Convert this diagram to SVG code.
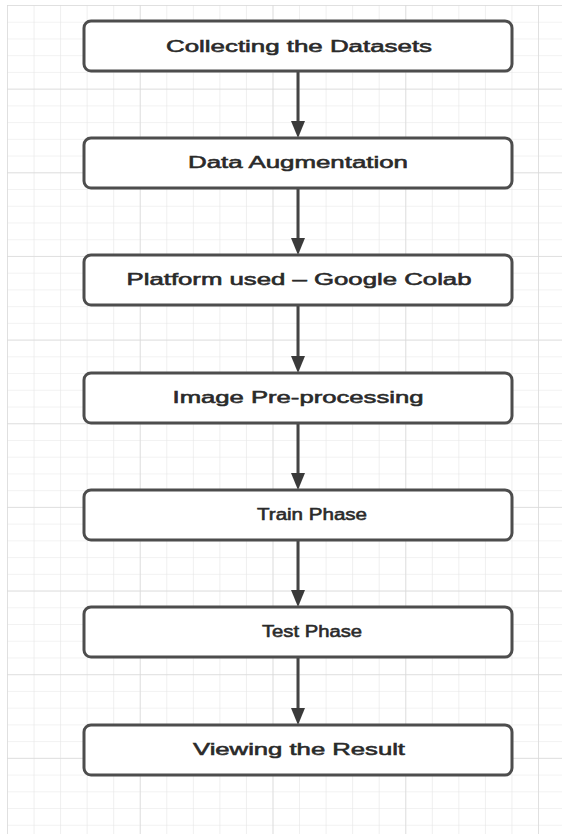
<svg xmlns="http://www.w3.org/2000/svg" width="562" height="834" viewBox="0 0 562 834">
  <defs>
    <!-- minor grid cell and a major block of 5x5 cells -->
    <pattern id="minor" x="7" y="5" width="26.55" height="16.73" patternUnits="userSpaceOnUse">
      <path d="M 0 0 L 0 16.73 M 0 0 L 26.55 0" fill="none" stroke="#e5e5e5" stroke-width="1.2"/>
    </pattern>
    <pattern id="major" x="7" y="5" width="132.75" height="83.65" patternUnits="userSpaceOnUse">
      <path d="M 0 0 L 0 83.65 M 0 0 L 132.75 0" fill="none" stroke="#dadada" stroke-width="1.4"/>
    </pattern>
    <style>
      .box { fill: #ffffff; stroke: #4d4d4d; stroke-width: 3; }
      .label { font-family: "Liberation Sans", Arial, sans-serif; font-size: 16px; fill: #2a2a2a; stroke: #2a2a2a; stroke-width: 0.55; text-anchor: middle; }
      .edge { stroke: #444444; stroke-width: 3; fill: none; }
      .head { fill: #3a3a3a; }
    </style>
  </defs>

  <!-- canvas with grid -->
  <rect x="0" y="0" width="562" height="834" fill="#ffffff"/>
  <rect x="7" y="5" width="555" height="829" fill="url(#minor)"/>
  <rect x="7" y="5" width="555" height="829" fill="url(#major)"/>

  <!-- connectors -->
  <g id="connectors">
    <line class="edge" x1="298" y1="71" x2="298" y2="124"/>
    <path class="head" d="M 291 121 L 305 121 L 298 138 Z"/>
    <line class="edge" x1="298" y1="188" x2="298" y2="241"/>
    <path class="head" d="M 291 238 L 305 238 L 298 255 Z"/>
    <line class="edge" x1="298" y1="305" x2="298" y2="358"/>
    <path class="head" d="M 291 356 L 305 356 L 298 373 Z"/>
    <line class="edge" x1="298" y1="423" x2="298" y2="476"/>
    <path class="head" d="M 291 473 L 305 473 L 298 490 Z"/>
    <line class="edge" x1="298" y1="540" x2="298" y2="593"/>
    <path class="head" d="M 291 590 L 305 590 L 298 607 Z"/>
    <line class="edge" x1="298" y1="657" x2="298" y2="710"/>
    <path class="head" d="M 291 708 L 305 708 L 298 725 Z"/>
  </g>

  <g id="collect">
    <rect class="box" x="84" y="21" width="428" height="50" rx="7"/>
    <text class="label" x="299" y="52" textLength="266" lengthAdjust="spacingAndGlyphs">Collecting the Datasets</text>
  </g>
  <g id="augment">
    <rect class="box" x="84" y="138" width="428" height="50" rx="7"/>
    <text class="label" x="298" y="168" textLength="220" lengthAdjust="spacingAndGlyphs">Data Augmentation</text>
  </g>
  <g id="platform">
    <rect class="box" x="84" y="255" width="428" height="50" rx="7"/>
    <text class="label" x="299" y="285" textLength="345" lengthAdjust="spacingAndGlyphs">Platform used – Google Colab</text>
  </g>
  <g id="preprocess">
    <rect class="box" x="84" y="373" width="428" height="50" rx="7"/>
    <text class="label" x="298" y="403" textLength="251" lengthAdjust="spacingAndGlyphs">Image Pre-processing</text>
  </g>
  <g id="train">
    <rect class="box" x="84" y="490" width="428" height="50" rx="7"/>
    <text class="label" x="312" y="520" textLength="110" lengthAdjust="spacingAndGlyphs">Train Phase</text>
  </g>
  <g id="test">
    <rect class="box" x="84" y="607" width="428" height="50" rx="7"/>
    <text class="label" x="312" y="637" textLength="100" lengthAdjust="spacingAndGlyphs">Test Phase</text>
  </g>
  <g id="result">
    <rect class="box" x="84" y="725" width="428" height="50" rx="7"/>
    <text class="label" x="299" y="755" textLength="212" lengthAdjust="spacingAndGlyphs">Viewing the Result</text>
  </g>
</svg>
